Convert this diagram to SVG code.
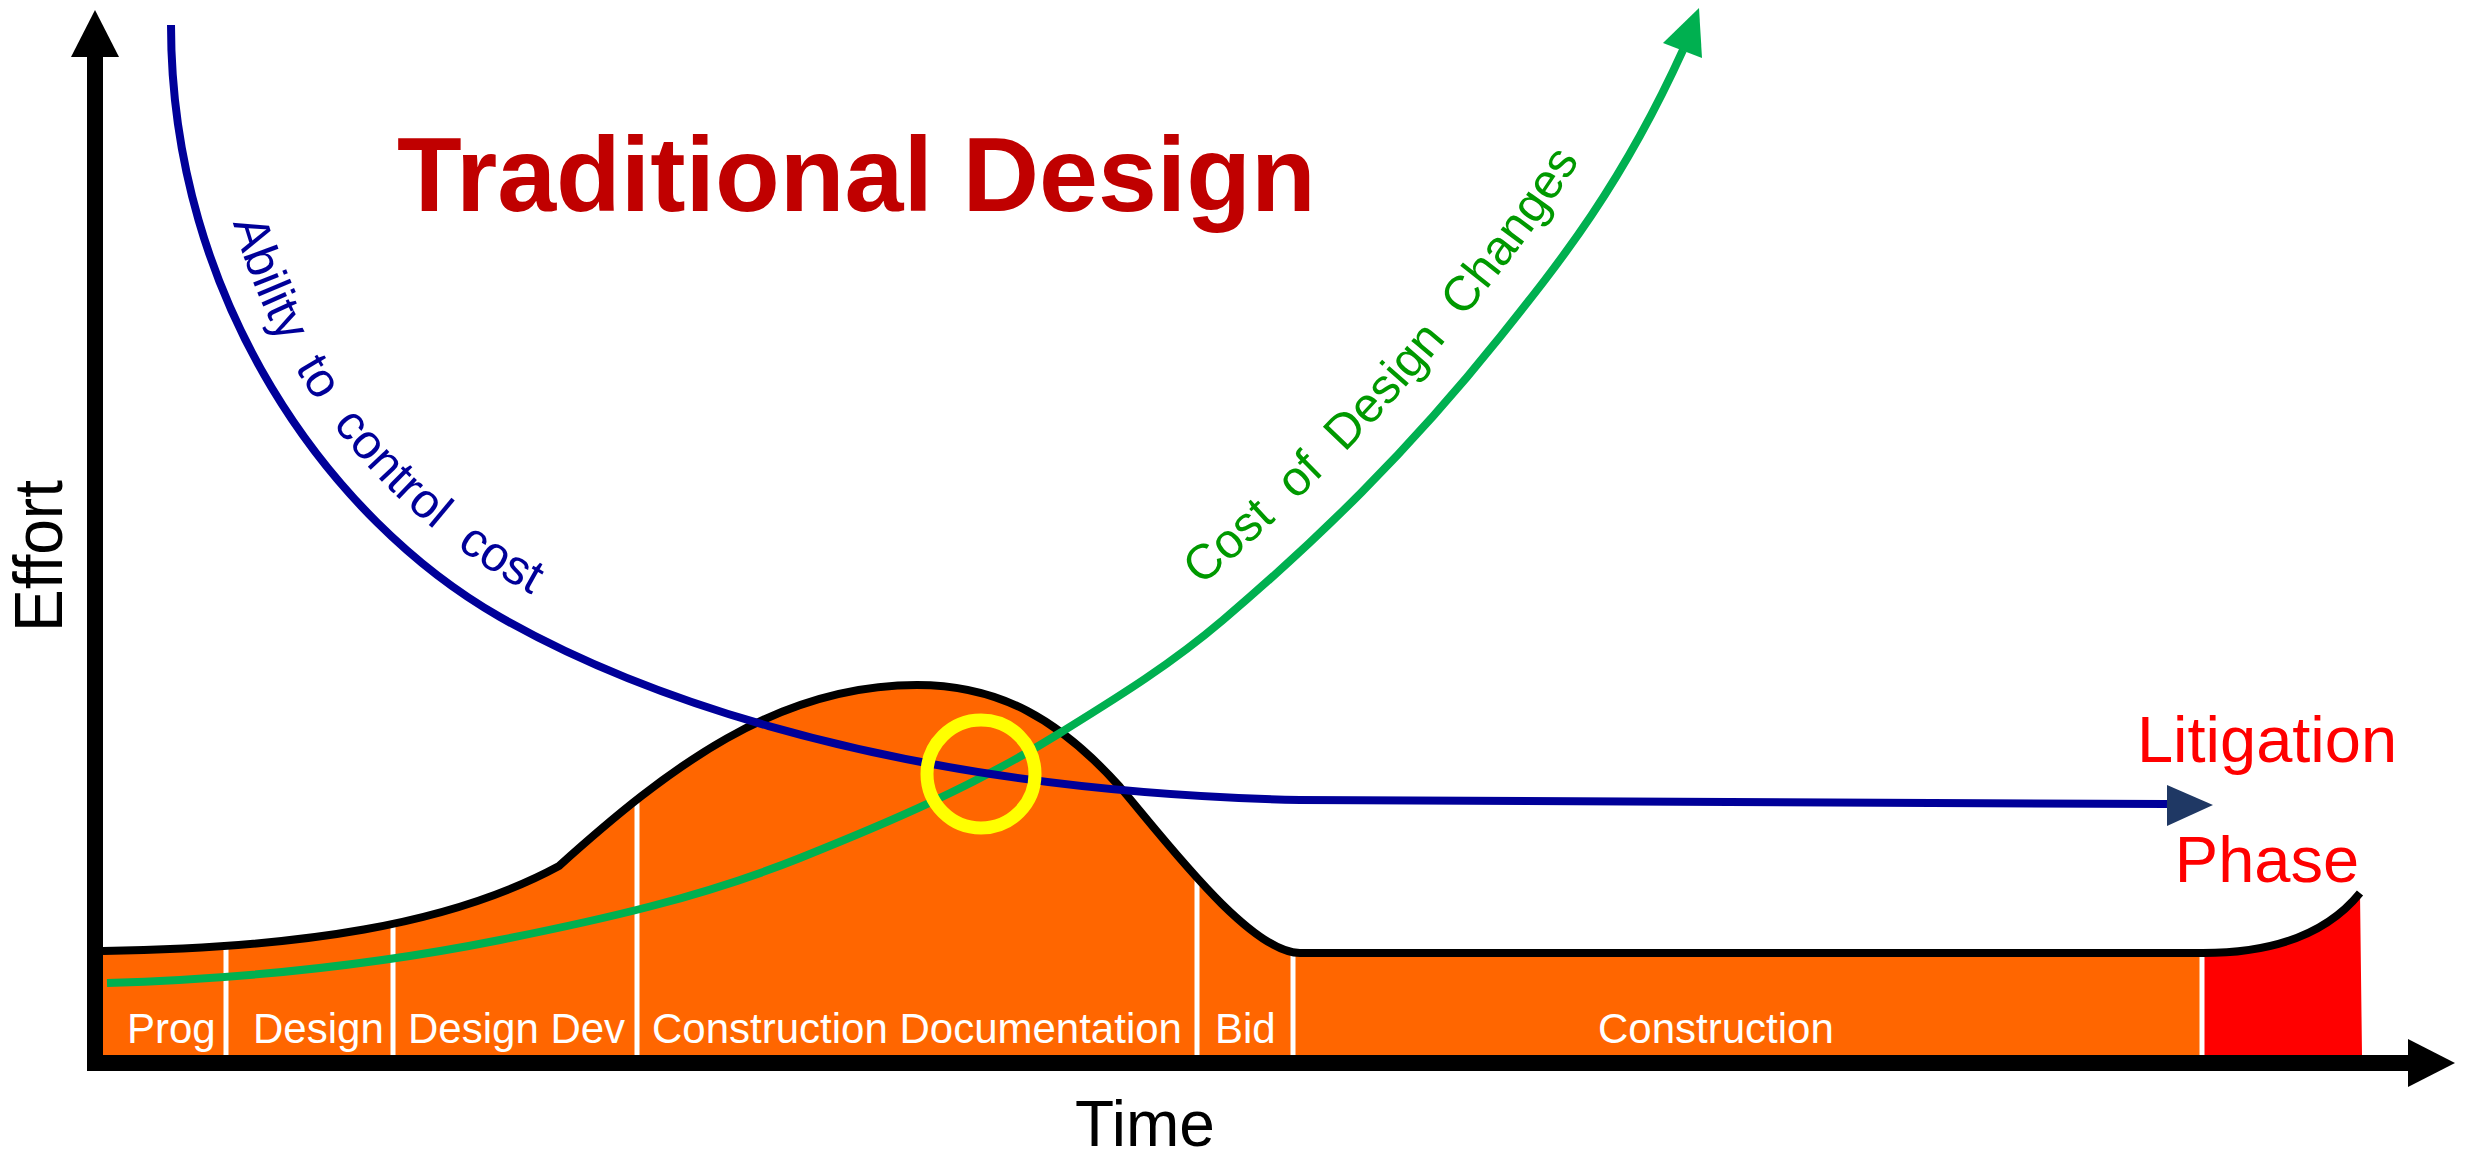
<svg xmlns="http://www.w3.org/2000/svg" width="2468" height="1156" viewBox="0 0 2468 1156">
  <style>
    .lbl { font-family: "Liberation Sans", Arial, sans-serif; font-size: 42px; fill: #FFFFFF; }
    .axisTxt { font-family: "Liberation Sans", Arial, sans-serif; fill: #000000; }
    .curveTxt { font-family: "Liberation Sans", Arial, sans-serif; font-size: 49px; }
    .div { stroke: #FFFFFF; stroke-width: 5; }
  </style>
  <defs>
    <path id="blueTextPath" d="M206,25 C206,300 347.3,489.6 517.3,586.6 C617.3,643.6 850.8,755 1300.8,765"/>
    <path id="greenTextPath" d="M1197.1,589.5 C1289.4,511 1376.5,427.4 1468.8,312 C1529.8,235.75 1585.6,167.7 1646.6,33.5"/>
  </defs>
  <rect width="2468" height="1156" fill="#FFFFFF"/>

  <g id="effort-area">
    <path d="M103,951 C300,948 450,925 559,866 C669,767 777,685 917,685 C1000,685 1060,720 1120,787 C1165,840 1250,953 1300,953 L2203,953 L2203,1055 L103,1055 Z" fill="#FF6600"/>
    <path d="M2203,953 C2280,953 2330,930 2360,893 L2362,1055 L2203,1055 Z" fill="#FF0000"/>
    <line class="div" x1="226" y1="940" x2="226" y2="1055"/>
    <line class="div" x1="393" y1="920" x2="393" y2="1055"/>
    <line class="div" x1="637" y1="790" x2="637" y2="1055"/>
    <line class="div" x1="1197" y1="875" x2="1197" y2="1055"/>
    <line class="div" x1="1293" y1="945" x2="1293" y2="1055"/>
    <line class="div" x1="2202" y1="945" x2="2202" y2="1055"/>
    <path d="M103,951 C300,948 450,925 559,866 C669,767 777,685 917,685 C1000,685 1060,720 1120,787 C1165,840 1250,953 1300,953 L2203,953 C2280,953 2330,930 2360,893" fill="none" stroke="#000000" stroke-width="8"/>
  </g>

  <g id="phase-labels">
    <text class="lbl" x="127" y="1043">Prog</text>
    <text class="lbl" x="253" y="1043">Design</text>
    <text class="lbl" x="408" y="1043">Design Dev</text>
    <text class="lbl" x="652" y="1043">Construction Documentation</text>
    <text class="lbl" x="1215" y="1043">Bid</text>
    <text class="lbl" x="1598" y="1043">Construction</text>
  </g>

  <g id="connectors">
    <g id="cost-of-changes">
      <path d="M107,983 C238,979.1 369,966.2 500,940 C600,920 700,898 800,858 C886.7,823.3 973.3,786.8 1060,733 C1114.3,699.3 1168.7,666.2 1223,620 C1315.3,541.5 1407.7,452.4 1500,337 C1561,260.75 1622,184.2 1683,50" fill="none" stroke="#00B050" stroke-width="8"/>
      <polygon points="1699,8 1663,43 1702,58" fill="#00B050"/>
    </g>
    <g id="ability-to-control">
      <path d="M171,25 C171,300 330,520 500,617 C600,674 850,790 1300,800 L2167,804" fill="none" stroke="#000099" stroke-width="8"/>
      <polygon points="2167,785 2213,805 2167,826" fill="#1F3864"/>
    </g>
  </g>

  <g id="intersection">
    <circle cx="981" cy="774" r="54" fill="none" stroke="#FFFF00" stroke-width="13"/>
  </g>

  <g id="axes">
    <rect x="87" y="55" width="16" height="1016" fill="#000000"/>
    <polygon points="71,57 95,10 119,57" fill="#000000"/>
    <rect x="87" y="1055" width="2323" height="16" fill="#000000"/>
    <polygon points="2408,1039 2455,1063 2408,1087" fill="#000000"/>
  </g>

  <g id="title">
    <text x="397" y="211" font-family="Liberation Sans, Arial, sans-serif" font-size="106" font-weight="bold" fill="#C00000">Traditional Design</text>
  </g>

  <g id="axis-labels">
    <text class="axisTxt" transform="translate(62,556) rotate(-90)" text-anchor="middle" font-size="68" textLength="152" lengthAdjust="spacingAndGlyphs">Effort</text>
    <text class="axisTxt" x="1075" y="1146" font-size="64">Time</text>
  </g>

  <g id="curve-labels">
    <text class="curveTxt" fill="#000099" xml:space="preserve"><textPath href="#blueTextPath" startOffset="200">Ability  to  control  cost</textPath></text>
    <text class="curveTxt" fill="#009900" xml:space="preserve"><textPath href="#greenTextPath" startOffset="5">Cost  of  Design  Changes</textPath></text>
  </g>

  <g id="litigation">
    <text x="2267" y="762" text-anchor="middle" font-family="Liberation Sans, Arial, sans-serif" font-size="65" fill="#FF0000">Litigation</text>
    <text x="2267" y="882" text-anchor="middle" font-family="Liberation Sans, Arial, sans-serif" font-size="65" fill="#FF0000">Phase</text>
  </g>
</svg>
